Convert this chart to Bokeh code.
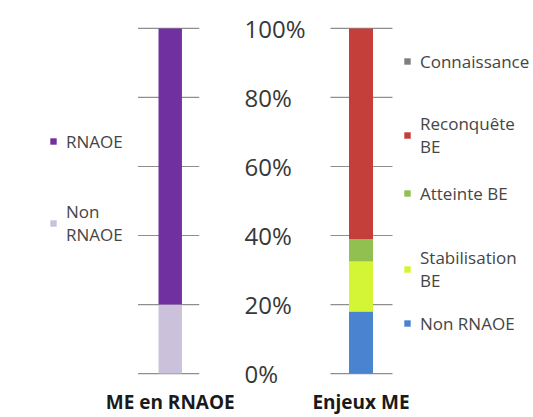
from bokeh.plotting import figure
from bokeh.layouts import row
from bokeh.models import (ColumnDataSource, Legend, LegendItem, NumeralTickFormatter,
                          FixedTicker, Range1d)
from bokeh.embed import file_html
from bokeh.resources import INLINE

# ---- data ----
left_cat = ["ME en RNAOE"]
left_x = [0]
left_series = ["Non RNAOE", "RNAOE"]
left_values = [0.20, 0.80]
left_colors = ["#CCC1DA", "#7030A0"]
left_legend_labels = ["Non\nRNAOE", "RNAOE"]

right_cat = ["Enjeux ME"]
right_x = [0]
right_series = ["Non RNAOE", "Stabilisation BE", "Atteinte BE", "Reconquête BE", "Connaissance"]
right_values = [0.18, 0.145, 0.065, 0.61, 0.0]
right_colors = ["#4A84D0", "#D4F436", "#92C050", "#C43E3A", "#7F7F7F"]
right_legend_labels = ["Non RNAOE", "Stabilisation\nBE", "Atteinte BE", "Reconquête\nBE", "Connaissance"]

y_ticks = [0, 0.2, 0.4, 0.6, 0.8, 1.0]

FONT = "Open Sans"
GRID = "#8E8E8E"
PX = 60.0         # pixels per x unit
FB = 386          # frame bottom (page px)
PAD = 10.0 / 348  # y padding so the 0% and 100% lines sit well inside the frame


def base_fig(width, x0, x1, br, yloc, xs, cats, gx0, gx1):
    p = figure(x_range=Range1d(x0, x1), y_range=Range1d(-PAD, 1 + PAD),
               width=width, height=417,
               output_backend="svg", toolbar_location=None, y_axis_location=yloc,
               min_border_left=0, min_border_right=br, min_border_top=18,
               min_border_bottom=31)
    p.outline_line_color = None
    p.xgrid.grid_line_color = None
    p.ygrid.grid_line_color = None
    # horizontal value lines, limited to the area around the bar
    p.segment(x0=gx0, x1=gx1, y0="y", y1="y", source=ColumnDataSource({"y": y_ticks}),
              line_color=GRID, line_width=1.2)
    p.yaxis.ticker = FixedTicker(ticks=y_ticks)
    p.xaxis.ticker = FixedTicker(ticks=xs)
    p.xaxis.major_label_overrides = {x: c for x, c in zip(xs, cats)}
    p.xaxis.axis_line_color = None
    p.xaxis.major_tick_line_color = None
    p.xaxis.minor_tick_line_color = None
    p.xaxis.major_tick_out = 0
    p.xaxis.major_tick_in = 0
    p.xaxis.major_label_standoff = 5
    p.xaxis.major_label_text_font = FONT
    p.xaxis.major_label_text_font_style = "bold"
    p.xaxis.major_label_text_font_size = "19px"
    p.xaxis.major_label_text_color = "#1a1a1a"
    p.background_fill_color = "white"
    p.border_fill_color = "white"
    return p


def add_legend(p, renderer, label, vx, yc1):
    n = label.count("\n") + 1
    h = 23 + 20.4 * (n - 1)
    top = yc1 - 11.5 + (1 if n == 1 else 1)
    leg = Legend(items=[LegendItem(label=label, renderers=[renderer])],
                 location=(vx, FB - (top + h)), padding=0, margin=0, spacing=0,
                 border_line_color=None, background_fill_alpha=0,
                 glyph_width=8, glyph_height=8, label_standoff=9,
                 label_height=20, label_text_font=FONT,
                 label_text_font_size="17px", label_text_color="#454545")
    p.add_layout(leg, "center")


# ---- left chart: frame spans page x 0..204, bar centred at 174 ----
p1 = base_fig(308, -174 / PX, 30 / PX, 104, "right", left_x, left_cat,
              -33 / PX, 30 / PX)
src1 = {"x": left_x}
for s, v in zip(left_series, left_values):
    src1[s] = [v]
r1 = p1.vbar_stack(left_series, x="x", width=0.4, color=left_colors,
                   line_color=None, source=ColumnDataSource(src1))
p1.yaxis.formatter = NumeralTickFormatter(format="0%")
p1.yaxis.axis_line_color = None
p1.yaxis.major_tick_line_color = None
p1.yaxis.minor_tick_line_color = None
p1.yaxis.major_label_standoff = 39
p1.yaxis.major_label_text_font = FONT
p1.yaxis.major_label_text_font_size = "24px"
p1.yaxis.major_label_text_color = "#383838"

left_pos = {"RNAOE": 143, "Non RNAOE": 216}
for s, r, lab in zip(left_series, r1, left_legend_labels):
    add_legend(p1, r, lab, 49, left_pos[s])

# ---- right chart: frame spans page x 308..533, bar centred at 360.5 ----
p2 = base_fig(225, -52.5 / PX, 172.5 / PX, 0, "left", right_x, right_cat,
              -30.5 / PX, 31.5 / PX)
p2.yaxis.visible = False
src2 = {"x": right_x}
for s, v in zip(right_series, right_values):
    src2[s] = [v]
r2 = p2.vbar_stack(right_series, x="x", width=0.4, color=right_colors,
                   line_color=None, source=ColumnDataSource(src2))
right_pos = {"Connaissance": 63, "Reconquête BE": 128, "Atteinte BE": 195,
             "Stabilisation BE": 262, "Non RNAOE": 325}
for s, r, lab in zip(right_series, r2, right_legend_labels):
    add_legend(p2, r, lab, 403 - 308, right_pos[s])

layout = row(p1, p2)
open("out.html", "w").write(file_html(layout, INLINE))
